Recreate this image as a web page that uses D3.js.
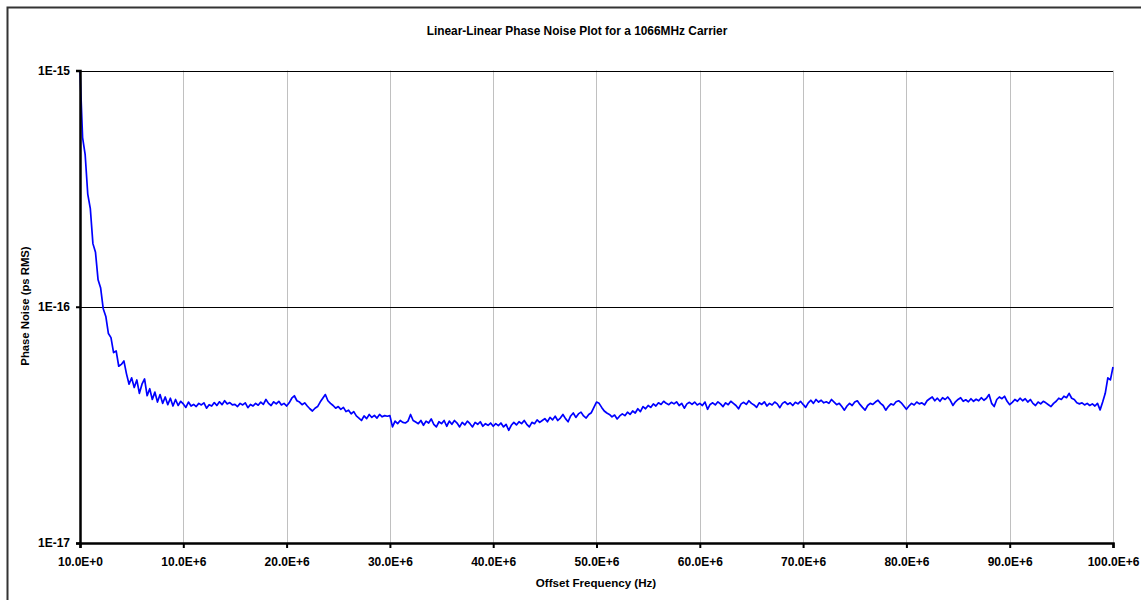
<!DOCTYPE html>
<html lang="en">
<head>
<meta charset="UTF-8">
<title>Phase Noise</title>
<style>
  body { margin: 0; background: #fff; }
  text { font-family: "Liberation Sans", Arial, sans-serif; font-weight: bold; fill: #000; }
</style>
</head>
<body>
<script src="https://d3js.org/d3.v7.min.js"></script>
<script>
// offset frequency grid: first point is 10 Hz, then every 0.25 MHz up to 100 MHz
var startHz = 10;
var stepHz = 250e3;
// phase noise, in units of 1E-17 ps RMS (one value per 0.25 MHz)
var noise = [
  100, 52, 44, 30, 26, 18.5, 17, 13, 12, 9.8,
  9.1, 7.7, 7.4, 6.4, 6.5, 5.6, 5.7, 5.9, 5.2, 4.7,
  5.0, 4.55, 4.9, 4.3, 4.7, 4.95, 4.2, 4.5, 4.05, 4.35,
  3.95, 4.25, 3.9, 4.15, 3.85, 4.1, 3.8, 4.05, 3.82, 3.98,
  3.88,
  // 10 - 20 MHz
  3.75, 3.95, 3.8, 3.86, 3.78, 3.9, 3.84, 3.92, 3.72, 3.85,
  3.8, 3.93, 3.82, 3.96, 3.85, 4.0, 3.88, 3.93, 3.84, 3.86,
  3.78, 3.9, 3.84, 3.92, 3.74, 3.86, 3.8, 3.9, 3.83, 3.95,
  3.86, 4.05, 3.9, 3.82, 3.96, 3.88, 3.98, 3.84, 3.9, 3.8,
  // 20 - 30 MHz
  3.92, 4.1, 4.2, 4.0, 3.95, 3.85, 3.92, 3.8, 3.7, 3.62,
  3.72, 3.78, 3.95, 4.1, 4.25, 4.0, 3.9, 3.82, 3.72, 3.78,
  3.68, 3.75, 3.6, 3.65, 3.52, 3.6, 3.45, 3.38, 3.3, 3.45,
  3.36, 3.5, 3.4, 3.47, 3.38, 3.5, 3.42, 3.46, 3.44, 3.46,
  // 30 - 40 MHz
  3.1, 3.28, 3.2, 3.3, 3.24, 3.22, 3.28, 3.5, 3.3, 3.25,
  3.2, 3.3, 3.15, 3.28, 3.22, 3.35, 3.18, 3.1, 3.26, 3.2,
  3.3, 3.12, 3.28, 3.18, 3.3, 3.22, 3.1, 3.24, 3.16, 3.28,
  3.2, 3.1, 3.24, 3.18, 3.26, 3.12, 3.2, 3.15, 3.22, 3.12,
  // 40 - 50 MHz
  3.2, 3.14, 3.22, 3.1, 3.18, 3.0, 3.15, 3.24, 3.16, 3.26,
  3.2, 3.3, 3.18, 3.1, 3.24, 3.2, 3.32, 3.24, 3.3, 3.36,
  3.26, 3.4, 3.32, 3.44, 3.3, 3.38, 3.5, 3.36, 3.26, 3.45,
  3.55, 3.4, 3.52, 3.58, 3.45, 3.38, 3.5, 3.56, 3.75, 3.95,
  // 50 - 60 MHz
  3.9, 3.75, 3.62, 3.55, 3.5, 3.42, 3.48, 3.35, 3.45, 3.52,
  3.46, 3.58, 3.5, 3.62, 3.55, 3.7, 3.6, 3.78, 3.7, 3.82,
  3.75, 3.88, 3.8, 3.92, 3.86, 3.98, 3.9, 3.85, 3.94, 3.88,
  3.96, 3.82, 3.9, 3.72, 3.88, 3.94, 3.86, 3.95, 3.84, 3.9,
  // 60 - 70 MHz
  3.82, 3.95, 3.68, 3.86, 3.92, 3.84, 3.96, 3.88, 3.78, 3.92,
  3.85, 3.98, 3.9, 3.82, 3.7, 3.88, 3.94, 3.86, 4.0, 3.9,
  3.84, 3.75, 3.92, 3.86, 3.96, 3.8, 3.9, 3.84, 3.95, 3.88,
  3.74, 3.9, 3.96, 3.86, 3.92, 3.82, 3.94, 3.88, 3.98, 3.86,
  // 70 - 80 MHz
  3.75, 3.92, 4.02, 3.9, 4.05, 3.95, 4.02, 3.92, 3.96, 3.9,
  4.05, 3.95, 3.85, 3.9, 3.78, 3.65, 3.8, 3.9, 3.82, 3.95,
  4.0, 3.86, 3.75, 3.65, 3.82, 3.9, 3.86, 3.95, 4.02, 3.9,
  3.82, 3.65, 3.78, 3.88, 3.84, 3.96, 4.0, 3.92, 3.8, 3.68,
  // 80 - 90 MHz
  3.8, 3.9, 3.84, 3.95, 3.88, 3.92, 3.84, 4.0, 4.08, 4.15,
  4.0, 4.1, 3.98, 4.12, 4.05, 4.15, 4.02, 3.82, 3.96, 4.05,
  4.12, 3.98, 4.04, 3.96, 4.08, 3.98, 4.06, 4.0, 4.12, 4.02,
  4.1, 4.25, 3.9, 3.78, 4.05, 4.15, 4.08, 4.18, 3.98, 3.85,
  // 90 - 100 MHz
  3.94, 4.05, 3.98, 4.1, 4.0, 4.08, 3.95, 4.05, 3.9, 3.82,
  3.95, 3.88, 3.98, 3.92, 3.85, 3.78, 3.9, 3.98, 4.1, 4.05,
  4.18, 4.12, 4.3, 4.1, 4.05, 3.92, 3.88, 3.92, 3.84, 3.9,
  3.82, 3.88, 3.8, 3.9, 3.66, 3.95, 4.3, 5.0, 4.9, 5.56
];
var xTicks = [10, 10e6, 20e6, 30e6, 40e6, 50e6, 60e6, 70e6, 80e6, 90e6, 100e6];
var xTickLabels = ["10.0E+0", "10.0E+6", "20.0E+6", "30.0E+6", "40.0E+6", "50.0E+6",
                   "60.0E+6", "70.0E+6", "80.0E+6", "90.0E+6", "100.0E+6"];
var yTicks = [1e-17, 1e-16, 1e-15];
var yTickLabels = ["1E-17", "1E-16", "1E-15"];

var width = 1141, height = 600;
var plot = {left: 80, right: 1113, top: 70.5, bottom: 543};

var points = noise.map(function(v, i) {
  return {f: i == 0 ? startHz : i * stepHz, v: v * 1e-17};
});

var svg = d3.select("body").append("svg")
  .attr("width", width).attr("height", height);

// chart area border
svg.append("rect").attr("x", 7.5).attr("y", 7.5).attr("width", 1300).attr("height", 700)
  .attr("fill", "none").attr("stroke", "#333").attr("stroke-width", 2);

var x = d3.scaleLinear().domain([10, 100e6]).range([plot.left, plot.right]);
var y = d3.scaleLog().domain([1e-17, 1e-15]).range([plot.bottom, plot.top]);

// vertical grid
svg.append("g").selectAll("line").data(xTicks.slice(1)).enter().append("line")
  .attr("x1", function(d) { return Math.round(x(d)) + 0.5; })
  .attr("x2", function(d) { return Math.round(x(d)) + 0.5; })
  .attr("y1", plot.top).attr("y2", plot.bottom)
  .attr("stroke", "#c0c0c0").attr("stroke-width", 1);

// horizontal grid
svg.append("g").selectAll("line").data(yTicks.slice(1)).enter().append("line")
  .attr("x1", plot.left).attr("x2", plot.right)
  .attr("y1", function(d) { return Math.round(y(d)) + 0.5; })
  .attr("y2", function(d) { return Math.round(y(d)) + 0.5; })
  .attr("stroke", "#000").attr("stroke-width", 1);

// data line
var line = d3.line()
  .x(function(d) { return x(d.f); })
  .y(function(d) { return y(d.v); });
svg.append("path").datum(points)
  .attr("d", line)
  .attr("fill", "none").attr("stroke", "#0000ff").attr("stroke-width", 1.7)
  .attr("stroke-linejoin", "round");

// axes
var xAxis = d3.axisBottom(x).tickValues(xTicks)
  .tickFormat(function(d, i) { return xTickLabels[i]; })
  .tickSize(5).tickPadding(9);
var gx = svg.append("g").attr("transform", "translate(0," + plot.bottom + ")").call(xAxis);
gx.select(".domain").attr("stroke", "#000").attr("stroke-width", 2.5);
gx.selectAll(".tick line").attr("stroke", "#000").attr("stroke-width", 2);
gx.selectAll("text").style("font-size", "12px").style("font-family", "Liberation Sans, Arial, sans-serif").style("font-weight", "bold");

var yAxis = d3.axisLeft(y).tickValues(yTicks)
  .tickFormat(function(d, i) { return yTickLabels[i]; })
  .tickSize(4).tickPadding(6);
var gy = svg.append("g").attr("transform", "translate(" + plot.left + ",0)").call(yAxis);
gy.select(".domain").attr("stroke", "#000").attr("stroke-width", 2.5);
gy.selectAll(".tick line").attr("stroke", "#000").attr("stroke-width", 2);
gy.selectAll("text").style("font-size", "12px").style("font-family", "Liberation Sans, Arial, sans-serif").style("font-weight", "bold");

// titles
svg.append("text").attr("x", 577).attr("y", 35).attr("text-anchor", "middle")
  .style("font-size", "11.9px").text("Linear-Linear Phase Noise Plot for a 1066MHz Carrier");
svg.append("text").attr("x", 596).attr("y", 587).attr("text-anchor", "middle")
  .style("font-size", "11.6px").text("Offset Frequency (Hz)");
svg.append("text").attr("transform", "translate(29,306) rotate(-90)").attr("text-anchor", "middle")
  .style("font-size", "11.3px").text("Phase Noise (ps RMS)");
</script>
</body>
</html>
